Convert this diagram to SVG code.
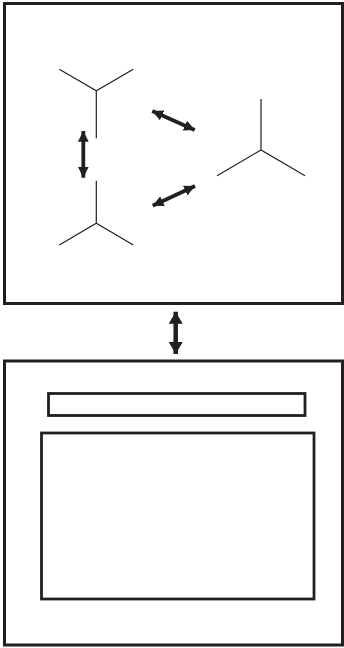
<svg xmlns="http://www.w3.org/2000/svg" width="344" height="648" viewBox="0 0 344 648">
<style>
.frame{fill:#fff;stroke:#231f20;stroke-width:3}
.inner{fill:#fff;stroke:#231f20;stroke-width:2.8}
.y{fill:none;stroke:#231f20;stroke-width:1.2}
.arr{fill:none;stroke:#231f20;stroke-width:3.8;marker-start:url(#ah);marker-end:url(#ah)}
.arr-big{fill:none;stroke:#231f20;stroke-width:4.5;marker-start:url(#ahb);marker-end:url(#ahb)}
</style>
<defs>
<marker id="ah" viewBox="0 0 10 10" refX="10" refY="5" markerWidth="10.8" markerHeight="10.8" orient="auto-start-reverse" markerUnits="userSpaceOnUse">
<path d="M0,0 L10,5 L0,10 Z" fill="#231f20"/>
</marker>
<marker id="ahb" viewBox="0 0 10 10" refX="10" refY="5" markerWidth="12" markerHeight="14" orient="auto-start-reverse" markerUnits="userSpaceOnUse" preserveAspectRatio="none">
<path d="M0,0 L10,5 L0,10 Z" fill="#231f20"/>
</marker>
</defs>
<rect width="344" height="648" fill="#fff"/>
<g id="top-panel">
<rect class="frame" x="4.5" y="3.5" width="338" height="300"/>
</g>
<g id="node-top-left">
<path class="y" d="M59.3,69.3 L96.3,90.7 L133.3,69.3 M96.3,90.7 L96.3,138.3"/>
</g>
<g id="node-bottom-left">
<path class="y" d="M59.3,245 L96.3,223.3 L133.3,245 M96.3,223.3 L96.3,180.7"/>
</g>
<g id="node-right">
<path class="y" d="M261,99 L261,150 M217,175.7 L261,150 L305,175.7"/>
</g>
<g id="bottom-panel">
<rect class="frame" x="4.5" y="361" width="338" height="284"/>
<rect class="inner" x="48.5" y="393.5" width="256.5" height="22"/>
<rect class="inner" x="41.5" y="433" width="272.5" height="166"/>
</g>
<g id="connectors">
<line class="arr" x1="83.3" y1="131" x2="83.3" y2="177.7"/>
<line class="arr" x1="152.3" y1="111" x2="194.7" y2="130"/>
<line class="arr" x1="152.7" y1="205.7" x2="195" y2="186"/>
<line class="arr-big" x1="175.7" y1="311.7" x2="175.7" y2="354"/>
</g>
</svg>
